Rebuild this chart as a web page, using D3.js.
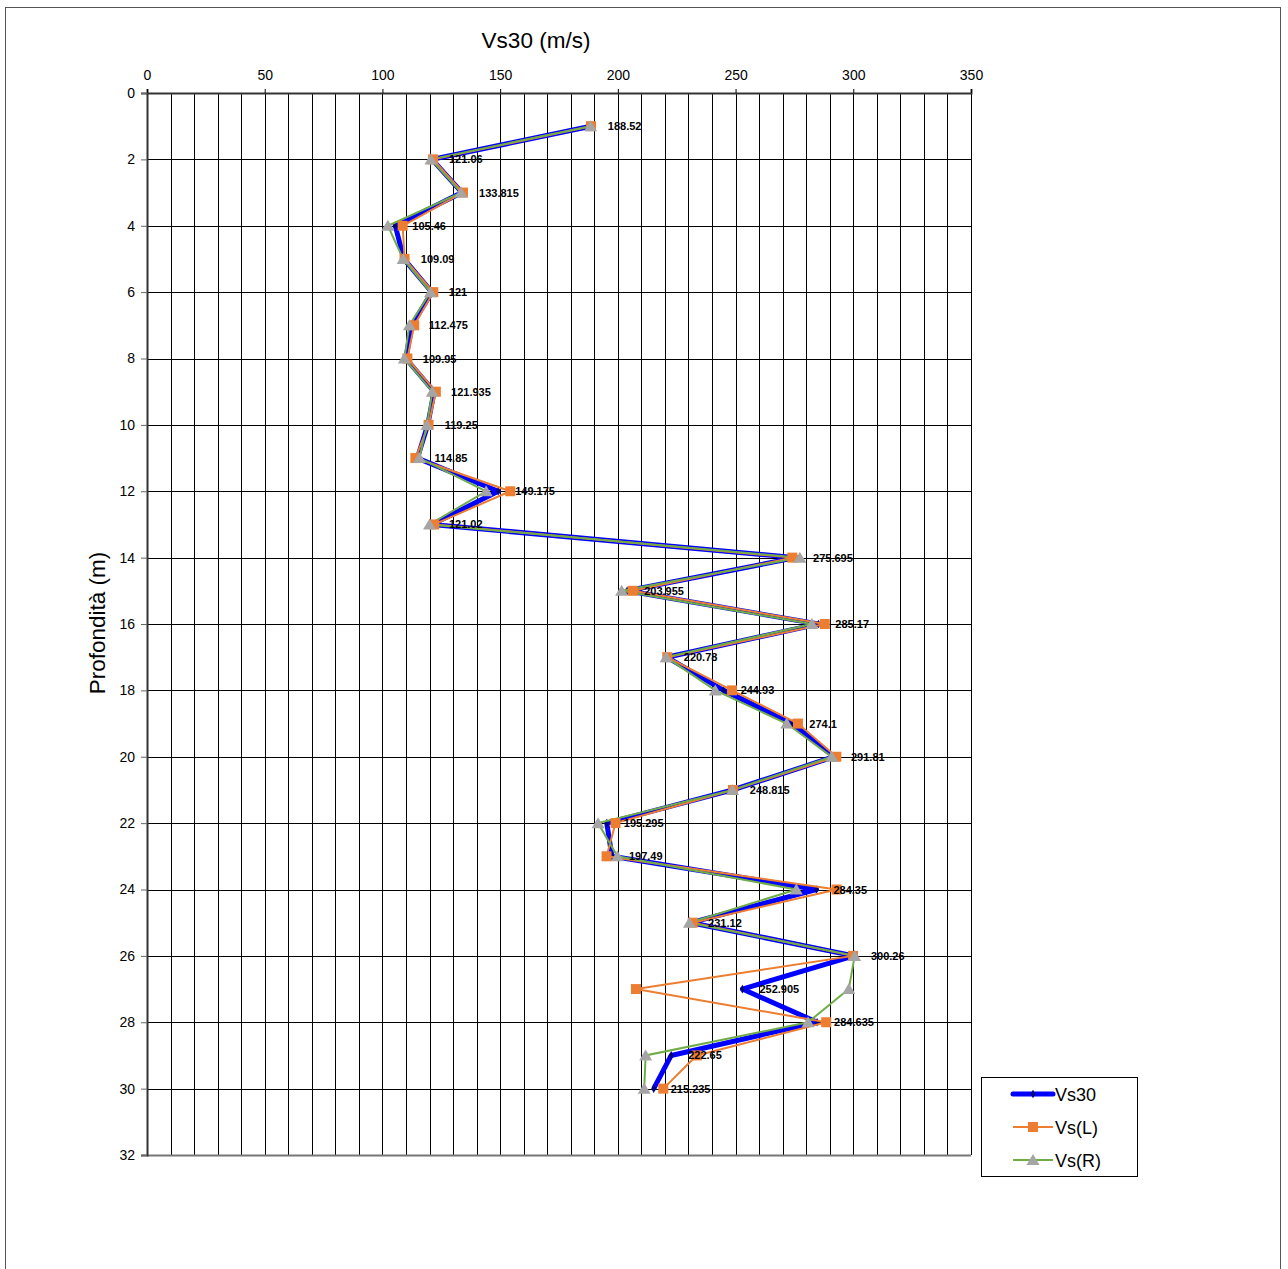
<!DOCTYPE html>
<html><head><meta charset="utf-8">
<script src="https://cdn.jsdelivr.net/npm/d3@7"></script>
<style>body{margin:0;background:#fff}svg{display:block;font-family:"Liberation Sans",Arial,sans-serif}</style>
</head><body><svg id="c" width="1288" height="1269"></svg>
<script>
const depths = [1,2,3,4,5,6,7,8,9,10,11,12,13,14,15,16,17,18,19,20,21,22,23,24,25,26,27,28,29,30];
const vs30 = [188.52,121.06,133.815,105.46,109.09,121,112.475,109.95,121.935,119.25,114.85,149.175,121.02,275.695,203.955,285.17,220.78,244.93,274.1,291.81,248.815,195.295,197.49,284.35,231.12,300.26,252.905,284.635,222.65,215.235];
const vsL = [188.6,121.5,134.2,108.6,109.4,121.6,113.5,110.6,122.7,119.6,114.0,154.3,122.0,274.1,206.3,287.9,221.0,248.5,276.5,292.8,248.9,199.0,195.2,292.9,231.8,299.9,207.7,288.5,233.5,219.3];
const vsR = [188.4,120.6,133.4,102.3,108.8,120.4,111.45,109.3,121.2,118.9,115.7,144.05,120.0,277.3,201.6,282.4,220.5,241.4,271.7,290.8,248.7,191.6,199.8,275.8,230.4,300.6,298.1,280.8,211.8,211.2];
const xTicks = [0,50,100,150,200,250,300,350];
const yTicks = [0,2,4,6,8,10,12,14,16,18,20,22,24,26,28,30,32];
const seriesNames = ["Vs30","Vs(L)","Vs(R)"];

const svg = d3.select("#c");
svg.append("rect").attr("x",5.5).attr("y",7.5).attr("width",1275).attr("height",1300).attr("fill","none").attr("stroke","#555").attr("stroke-width",1);

const L=147,R=971,T=93,B=1155;
const x = d3.scaleLinear().domain([0,350]).range([L,R]);
const y = d3.scaleLinear().domain([0,32]).range([T,B]);

// grid
const g = svg.append("g");
g.selectAll(".vg").data(d3.range(10,351,10)).enter().append("line")
 .attr("x1",d=>Math.round(x(d))+0.5).attr("x2",d=>Math.round(x(d))+0.5).attr("y1",T).attr("y2",B)
 .attr("stroke","#000").attr("stroke-width",1);
g.selectAll(".hg").data(d3.range(2,33,2)).enter().append("line")
 .attr("y1",d=>Math.round(y(d))+0.5).attr("y2",d=>Math.round(y(d))+0.5).attr("x1",L).attr("x2",R)
 .attr("stroke",d=>d===32?"#777":"#000").attr("stroke-width",d=>d===32?2:1);

// axes
const xa = svg.append("g").attr("transform",`translate(0,${T})`)
 .call(d3.axisTop(x).tickValues(xTicks).tickSize(4).tickPadding(9));
xa.select(".domain").attr("stroke","#333").attr("stroke-width",2);
xa.selectAll("text").attr("font-size",14).attr("fill","#000").attr("font-family","Liberation Sans, Arial");
const ya = svg.append("g").attr("transform",`translate(${L},0)`)
 .call(d3.axisLeft(y).tickValues(yTicks).tickSize(6).tickPadding(6));
ya.select(".domain").attr("stroke","#333").attr("stroke-width",2);
ya.selectAll("text").attr("font-size",14).attr("fill","#000").attr("font-family","Liberation Sans, Arial");
ya.selectAll(".tick line").attr("stroke","#666");

svg.append("text").attr("x",536).attr("y",48).attr("text-anchor","middle").attr("font-size",22.5).text("Vs30 (m/s)");
svg.append("text").attr("transform","translate(105,623) rotate(-90)").attr("text-anchor","middle").attr("font-size",22.5).text("Profondità (m)");

const line = d3.line().x(d=>x(d[0])).y(d=>y(d[1]));
const ptsA = vs30.map((v,i)=>[v,depths[i]]);
const ptsL = vsL.map((v,i)=>[v,depths[i]]);
const ptsR = vsR.map((v,i)=>[v,depths[i]]);

svg.append("path").attr("d",line(ptsA)).attr("fill","none").attr("stroke","#0000ff").attr("stroke-width",5).attr("stroke-linejoin","round");
svg.selectAll(".dA").data(ptsA).enter().append("path")
 .attr("d",d3.symbol(d3.symbolDiamond,22)).attr("transform",d=>`translate(${x(d[0])},${y(d[1])})`).attr("fill","#000080");
svg.append("path").attr("d",line(ptsL)).attr("fill","none").attr("stroke","#ed7d31").attr("stroke-width",2);
svg.append("path").attr("d",line(ptsR)).attr("fill","none").attr("stroke","#70ad47").attr("stroke-width",2);
svg.selectAll(".sL").data(ptsL).enter().append("rect")
 .attr("x",d=>x(d[0])-5).attr("y",d=>y(d[1])-5).attr("width",10).attr("height",10).attr("fill","#ed7d31");
svg.selectAll(".tR").data(ptsR).enter().append("path")
 .attr("d","M0,-6L6.5,5L-6.5,5Z").attr("transform",d=>`translate(${x(d[0])},${y(d[1])})`).attr("fill","#a5a5a5");

svg.selectAll(".lab").data(ptsA).enter().append("text")
 .attr("x",d=>x(d[0])+17).attr("y",d=>y(d[1])+4).attr("font-size",11).attr("font-weight","bold").attr("fill","#000")
 .text(d=>String(d[0]));

// legend
const lg = svg.append("g");
lg.append("rect").attr("x",981.5).attr("y",1077.5).attr("width",156).attr("height",99).attr("fill","#fff").attr("stroke","#000");
const ly = [1094,1127,1160];
lg.append("line").attr("x1",1013).attr("x2",1053).attr("y1",ly[0]).attr("y2",ly[0]).attr("stroke","#0000ff").attr("stroke-width",5).attr("stroke-linecap","round");
lg.append("path").attr("d",d3.symbol(d3.symbolDiamond,22)).attr("transform",`translate(1033,${ly[0]})`).attr("fill","#000080");
lg.append("line").attr("x1",1013).attr("x2",1053).attr("y1",ly[1]).attr("y2",ly[1]).attr("stroke","#ed7d31").attr("stroke-width",2);
lg.append("rect").attr("x",1028).attr("y",ly[1]-5).attr("width",10).attr("height",10).attr("fill","#ed7d31");
lg.append("line").attr("x1",1013).attr("x2",1053).attr("y1",ly[2]).attr("y2",ly[2]).attr("stroke","#70ad47").attr("stroke-width",2);
lg.append("path").attr("d","M0,-6L6.5,5L-6.5,5Z").attr("transform",`translate(1033,${ly[2]})`).attr("fill","#a5a5a5");
lg.selectAll(".lt").data(seriesNames).enter().append("text").attr("x",1055).attr("y",(d,i)=>ly[i]+7).attr("font-size",18).text(d=>d);
</script></body></html>
